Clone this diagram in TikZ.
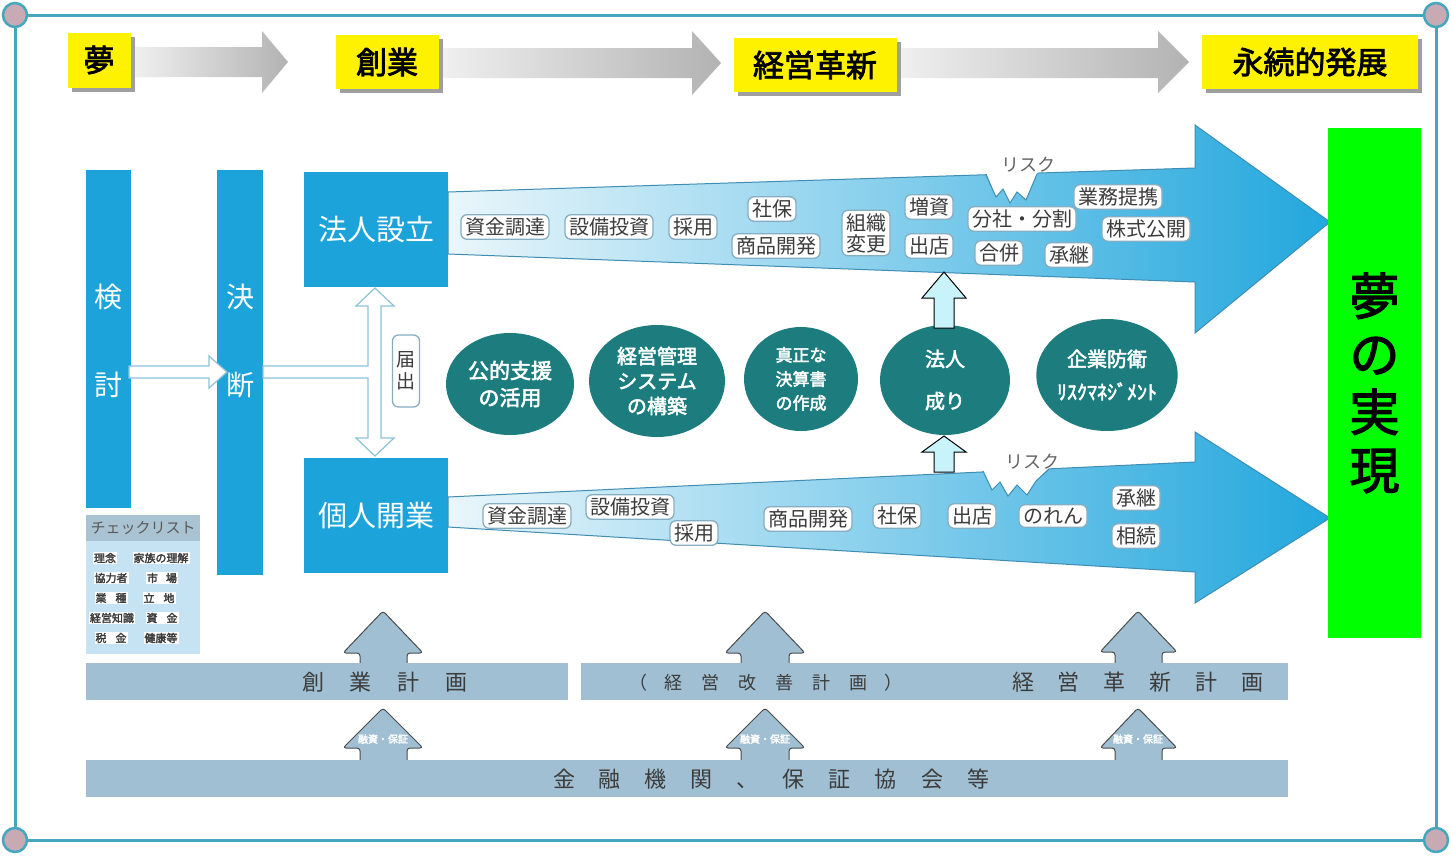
\documentclass[tikz,border=0pt]{standalone}
\usepackage{fontspec}
\setmainfont{Noto Sans CJK JP}[AutoFakeBold=2.5]
\usetikzlibrary{shapes.geometric,shadows}
\definecolor{frameC}{HTML}{45A7BE}
\definecolor{cornerF}{HTML}{C8AAB4}
\definecolor{cyanbox}{HTML}{1CA3D9}
\definecolor{tealc}{HTML}{1D7D7E}
\definecolor{bandC}{HTML}{A0BFD2}
\definecolor{lblB}{HTML}{86ADC2}
\definecolor{txtG}{HTML}{3C3C3C}
\definecolor{arrowBlue}{HTML}{22A7DD}
\definecolor{arrowLight}{HTML}{EAF6FB}
\definecolor{edgeB}{HTML}{3E8DB3}
\definecolor{lightcy}{HTML}{C9F3FA}
\definecolor{greenB}{HTML}{00FF00}
\definecolor{chkHead}{HTML}{A9C3D3}
\definecolor{chkBody}{HTML}{C6E3F3}
\definecolor{wArrowB}{HTML}{8CC3D8}
\newcommand\fsz[2]{\fontsize{#1}{#2}\selectfont}
\tikzset{
  ylab/.style={fill=yellow, text=black, font=\fsz{31}{33}\bfseries, inner sep=0pt,
     drop shadow={shadow xshift=4pt, shadow yshift=-4pt, fill=gray!75, opacity=1}},
  grayarrow/.style={left color=gray!12, right color=gray!60},
  bar/.style={fill=cyanbox, inner sep=0pt},
  bartxt/.style={text=white, font=\fsz{28}{30}},
  boxtxt/.style={fill=cyanbox, text=white, font=\fsz{29}{31}, inner sep=0pt},
  lbl/.style={draw=lblB, fill=white, rounded corners=6pt, font=\fsz{20}{22}, text=txtG,
     inner xsep=4pt, inner ysep=3pt, line width=1.3pt, align=center},
  circ/.style={ellipse, fill=tealc, text=white, align=center, inner sep=0pt,
     font=\fsz{20}{26}\bfseries},
  chk/.style={fill=white, text=txtG, font=\fsz{11}{12}\bfseries, inner sep=1pt},
  bandtxt/.style={text=txtG, font=\fsz{22}{24}},
  uparrow/.style={fill=bandC, draw=gray!60!black, line width=1pt, rounded corners=3pt},
  cyarrow/.style={fill=lightcy, draw=black, line width=1pt},
  warrow/.style={fill=white, draw=wArrowB, line width=1.2pt},
}
\begin{document}
\begin{tikzpicture}[x=1pt,y=-1pt]
\useasboundingbox (0,0) rectangle (1451,857);
\fill[white] (0,0) rectangle (1451,857);

% frame
\draw[frameC, line width=3pt] (15,15) rectangle (1436,840);
\foreach \p in {(15,15),(1436,15),(15,840),(1436,840)}
  \filldraw[fill=cornerF, draw=frameC, line width=2.5pt] \p circle (12);

% top row gray arrows
\shade[grayarrow] (135,47) -- (262,47) -- (262,31) -- (288,62) -- (262,93) -- (262,77) -- (135,77) -- cycle;
\shade[grayarrow] (441,48) -- (692,48) -- (692,31) -- (721,63) -- (692,95) -- (692,78) -- (441,78) -- cycle;
\shade[grayarrow] (899,48) -- (1158,48) -- (1158,31) -- (1189,62) -- (1158,93) -- (1158,78) -- (899,78) -- cycle;

% top row labels
\node[ylab, minimum width=63, minimum height=55] (yume) at (99,60) {夢};
\node[ylab, minimum width=103, minimum height=54] (sogyo) at (387,62) {創業};
\node[ylab, minimum width=163, minimum height=54] (kakushin) at (815,65) {経営革新};
\node[ylab, minimum width=216, minimum height=54] (eizoku) at (1310,62) {永続的発展};

% vertical bars
\node[bar, minimum width=45, minimum height=338] (kento) at (108.5,339) {};
\node[bar, minimum width=46, minimum height=405] (ketsudan) at (240,372.5) {};
\node[bartxt] (ken) at (108.5,297) {検};
\node[bartxt] (tou) at (108.5,385) {討};
\node[bartxt] (ketsu) at (240,297) {決};
\node[bartxt] (dan) at (240,385) {断};

% white arrows
\path[warrow] (129,366) -- (209,366) -- (209,356) -- (227,372) -- (209,388) -- (209,378) -- (129,378) -- cycle;
\coordinate (branch) at (374,372);
\path[warrow] (263,366) -- (368,366) -- (368,306) -- (356,306) -- (375,288) -- (394,306) -- (381,306)
  -- (381,438) -- (394,438) -- (375,456) -- (356,438) -- (368,438) -- (368,378) -- (263,378) -- cycle;

% company / individual boxes
\node[boxtxt, minimum width=144, minimum height=115] (hojin) at (376,229.5) {法人設立};
\node[boxtxt, minimum width=144, minimum height=115] (kojin) at (376,515.5) {個人開業};

% todokede
\node[draw=lblB, fill=white, rounded corners=6pt, line width=1.3pt, minimum width=27, minimum height=72,
  font=\fsz{19}{22}, text=txtG, align=center, inner sep=0pt] (todoke) at (406,371) {届\\出};

% upper big arrow
\shade[left color=arrowLight, right color=arrowBlue, draw=edgeB, line width=1pt]
  (448,192) -- (1195,168) -- (1195,125) -- (1330,222) -- (1195,333) -- (1195,282) -- (448,254) -- cycle;
\fill[white] (986,172) -- (996,197) -- (1003,189) -- (1010,203) -- (1017,192) -- (1026,200) -- (1038,171) -- cycle;
\draw[edgeB, line width=1pt] (986,175) -- (996,197) -- (1003,189) -- (1010,203) -- (1017,192) -- (1026,200) -- (1037,174);
\node[text=txtG!80, font=\fsz{18}{20}] (risk1) at (1028,165) {リスク};

% lower big arrow
\shade[left color=arrowLight, right color=arrowBlue, draw=edgeB, line width=1pt]
  (448,497) -- (1195,462) -- (1195,432) -- (1330,518) -- (1195,603) -- (1195,572) -- (448,527) -- cycle;
\fill[white] (982,469) -- (992,490) -- (1000,482) -- (1008,496) -- (1017,485) -- (1027,495) -- (1036,481) -- (1050,467) -- cycle;
\draw[edgeB, line width=1pt] (983,471) -- (992,490) -- (1000,482) -- (1008,496) -- (1017,485) -- (1027,495) -- (1036,481) -- (1049,469);
\node[text=txtG!80, font=\fsz{18}{20}] (risk2) at (1032,462) {リスク};

% labels upper arrow
\node[lbl] (u1) at (505,227) {資金調達};
\node[lbl] (u2) at (609,227) {設備投資};
\node[lbl] (u3) at (693,227) {採用};
\node[lbl] (u4) at (772,209) {社保};
\node[lbl] (u5) at (776,246) {商品開発};
\node[lbl, font=\fsz{20}{21}] (u6) at (866,233) {組織\\変更};
\node[lbl] (u7) at (929,207) {増資};
\node[lbl] (u8) at (929,246) {出店};
\node[lbl] (u9) at (1022,219) {分社・分割};
\node[lbl] (u10) at (999,253) {合併};
\node[lbl] (u11) at (1069,255) {承継};
\node[lbl] (u12) at (1118,197) {業務提携};
\node[lbl] (u13) at (1146,229) {株式公開};

% labels lower arrow
\node[lbl] (l1) at (527,516) {資金調達};
\node[lbl] (l2) at (630,507) {設備投資};
\node[lbl] (l3) at (694,533) {採用};
\node[lbl] (l4) at (808,519) {商品開発};
\node[lbl] (l5) at (897,516) {社保};
\node[lbl] (l6) at (972,516) {出店};
\node[lbl] (l7) at (1053,516) {のれん};
\node[lbl] (l8) at (1136,498) {承継};
\node[lbl] (l9) at (1136,536) {相続};

% circles
\node[circ, minimum width=128, minimum height=102, font=\fsz{21}{27}\bfseries] (c1) at (510,384) {公的支援\\の活用};
\node[circ, minimum width=136, minimum height=112, font=\fsz{20}{25}\bfseries] (c2) at (657,381) {経営管理\\システム\\の構築};
\node[circ, minimum width=114, minimum height=104, font=\fsz{17}{24}\bfseries] (c3) at (801,379) {真正な\\決算書\\の作成};
\node[circ, minimum width=130, minimum height=110, font=\fsz{20}{42}\bfseries] (c4) at (945,380) {法人\\成り};
\node[circ, minimum width=138, minimum height=112, font=\fsz{20}{33}\bfseries] (c5) at (1107,375) {企業防衛\\ﾘｽｸﾏﾈｼﾞﾒﾝﾄ};

% light cyan arrows around c4
\path[cyarrow] (934,328) -- (934,298) -- (922,298) -- (944,272) -- (966,298) -- (954,298) -- (954,328) -- cycle;
\path[cyarrow] (934,472) -- (934,452) -- (922,452) -- (944,436) -- (966,452) -- (954,452) -- (954,472) -- cycle;

% green box
\node[fill=greenB, minimum width=93, minimum height=510, inner sep=0pt] (dream) at (1374.5,383) {};
\node[font=\fsz{50}{58}\bfseries, align=center, text=black] (dreamtxt) at (1374.5,383) {夢\\の\\実\\現};

% checklist
\node[fill=chkHead, minimum width=114, minimum height=26, inner sep=0pt, text=txtG!85,
  font=\fsz{15}{16}] (chkh) at (143,528) {チェックリスト};
\node[fill=chkBody, minimum width=114, minimum height=113, inner sep=0pt] (chkb) at (143,597.5) {};
\node[chk] (k1) at (105,558) {理念};
\node[chk] (k2) at (161,558) {家族の理解};
\node[chk] (k3) at (111,578) {協力者};
\node[chk] (k4) at (162,578) {市\hspace{8pt}場};
\node[chk] (k5) at (111,598) {業\hspace{9pt}種};
\node[chk] (k6) at (159,598) {立\hspace{9pt}地};
\node[chk] (k7) at (112,618) {経営知識};
\node[chk] (k8) at (162,618) {資\hspace{9pt}金};
\node[chk] (k9) at (111,638) {税\hspace{9pt}金};
\node[chk] (k10) at (161,638) {健康等};

% bottom arrows (upper row)
\filldraw[uparrow] (360,666) -- (360,653) -- (343,653) -- (383,611) -- (423,653) -- (407,653) -- (407,666);
\filldraw[uparrow] (741,666) -- (741,653) -- (725,653) -- (765,611) -- (805,653) -- (789,653) -- (789,666);
\filldraw[uparrow] (1115,666) -- (1115,652) -- (1100,652) -- (1138,611) -- (1177,652) -- (1162,652) -- (1162,666);
% bottom arrows (lower row)
\filldraw[uparrow] (360,763) -- (360,748) -- (343,748) -- (383,708) -- (423,748) -- (407,748) -- (407,763);
\filldraw[uparrow] (741,763) -- (741,748) -- (725,748) -- (765,708) -- (805,748) -- (789,748) -- (789,763);
\filldraw[uparrow] (1115,763) -- (1115,748) -- (1100,748) -- (1138,708) -- (1177,748) -- (1162,748) -- (1162,763);
\node[text=white, font=\fsz{10}{11}\bfseries] (ys1) at (383,739) {融資・保証};
\node[text=white, font=\fsz{10}{11}\bfseries] (ys2) at (765,739) {融資・保証};
\node[text=white, font=\fsz{10}{11}\bfseries] (ys3) at (1138,739) {融資・保証};

% bands
\node[fill=bandC, minimum width=482, minimum height=37, inner sep=0pt] (b1) at (327,681.5) {};
\node[fill=bandC, minimum width=707, minimum height=37, inner sep=0pt] (b2) at (934,681.5) {};
\node[fill=bandC, minimum width=1202, minimum height=37, inner sep=0pt] (b3) at (687,778.5) {};
\node[bandtxt] (t1) at (385,682) {創\hspace{26pt}業\hspace{26pt}計\hspace{26pt}画};
\node[bandtxt, font=\fsz{18}{20}] (t2) at (766,683) {（\hspace{17pt}経\hspace{19pt}営\hspace{19pt}改\hspace{19pt}善\hspace{19pt}計\hspace{19pt}画\hspace{17pt}）};
\node[bandtxt] (t3) at (1138,682) {経\hspace{24pt}営\hspace{24pt}革\hspace{24pt}新\hspace{24pt}計\hspace{24pt}画};
\node[bandtxt] (t4) at (771,779) {金\hspace{24pt}融\hspace{24pt}機\hspace{24pt}関\hspace{24pt}、\hspace{24pt}保\hspace{24pt}証\hspace{24pt}協\hspace{24pt}会\hspace{24pt}等};
\end{tikzpicture}
\end{document}
